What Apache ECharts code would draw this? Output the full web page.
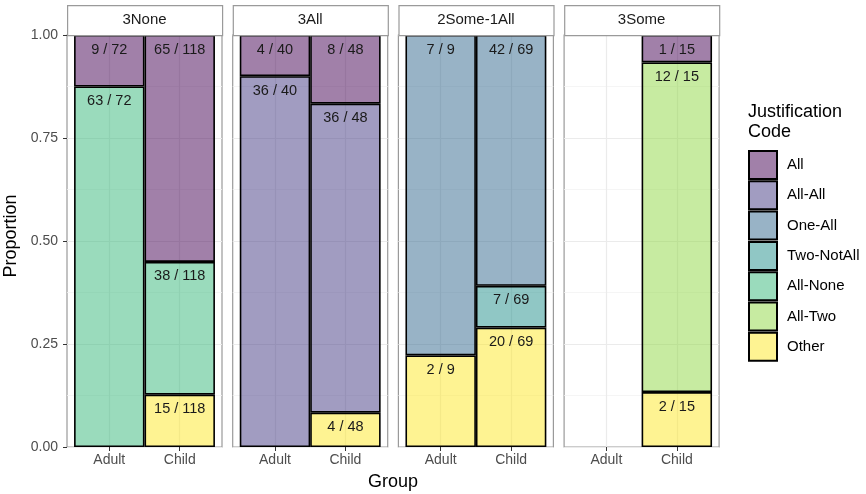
<!DOCTYPE html>
<html><head><meta charset="utf-8">
<script src="https://cdn.jsdelivr.net/npm/echarts@6/dist/echarts.min.js"></script>
<style>html,body{margin:0;padding:0;background:#fff}#c{width:866px;height:494px}</style>
</head><body><div id="c"></div>
<script>
// ---- data ----
const panels = ['3None', '3All', '2Some-1All', '3Some'];
const groups = ['Adult', 'Child'];
const codes = ['All', 'All-All', 'One-All', 'Two-NotAll', 'All-None', 'All-Two', 'Other'];
const yTicks = [0, 0.25, 0.5, 0.75, 1];
// counts per panel: [Adult, Child]
const cntAll       = [[9, 65], [4, 8],   [0, 0],  [0, 1]];
const cntAllAll    = [[0, 0],  [36, 36], [0, 0],  [0, 0]];
const cntOneAll    = [[0, 0],  [0, 0],   [7, 42], [0, 0]];
const cntTwoNotAll = [[0, 0],  [0, 0],   [0, 7],  [0, 0]];
const cntAllNone   = [[63, 38],[0, 0],   [0, 0],  [0, 0]];
const cntAllTwo    = [[0, 0],  [0, 0],   [0, 0],  [0, 12]];
const cntOther     = [[0, 15], [0, 4],   [2, 20], [0, 2]];
const countsByCode = [cntAll, cntAllAll, cntOneAll, cntTwoNotAll, cntAllNone, cntAllTwo, cntOther];
const colors = ['rgba(68,1,84,0.5)', 'rgba(68,58,131,0.5)', 'rgba(49,104,142,0.5)', 'rgba(33,144,140,0.5)',
                'rgba(53,183,121,0.5)', 'rgba(143,215,68,0.5)', 'rgba(253,231,37,0.5)'];

// ---- layout ----
const FONT = 'Liberation Sans, Arial, Helvetica, sans-serif';
const PL = [67, 232.7, 398.4, 564.1];
const PW = 155, TOP = 35, PH = 412;

const chart = echarts.init(document.getElementById('c'), null, {renderer: 'canvas'});
const grid = [], xAxis = [], yAxis = [], series = [], graphic = [];

panels.forEach((pn, i) => {
  // outer panel grid
  grid.push({left: PL[i], top: TOP, width: PW, height: PH, show: true, backgroundColor: '#fff',
             borderColor: '#9a9a9a', borderWidth: 1.2, containLabel: false});
  // inner bar grid (categories at 1,2 of range [0.4,2.6])
  grid.push({left: PL[i] + PW * 0.1 / 2.2, top: TOP, width: PW * 2 / 2.2, height: PH, show: false});
  xAxis.push({gridIndex: 2 * i, type: 'value', min: 0, max: 1, show: false});
  xAxis.push({gridIndex: 2 * i + 1, type: 'category', data: groups, boundaryGap: true,
    axisLine: {show: false},
    axisTick: {show: true, alignWithLabel: true, length: 4, lineStyle: {color: '#333', width: 1}},
    axisLabel: {color: '#4D4D4D', fontSize: 14, fontFamily: FONT, margin: 6, interval: 0},
    splitLine: {show: false}});
  yAxis.push({gridIndex: 2 * i, type: 'value', min: 0, max: 1, interval: 0.25,
    axisLine: {show: false},
    axisTick: {show: i === 0, length: 4, lineStyle: {color: '#333', width: 1}},
    axisLabel: {show: i === 0, color: '#4D4D4D', fontSize: 14, fontFamily: FONT, margin: 9,
                formatter: v => v.toFixed(2)},
    splitLine: {show: true, lineStyle: {color: '#EBEBEB', width: 1.2}},
    minorTick: {show: false, splitNumber: 2},
    minorSplitLine: {show: true, lineStyle: {color: '#F2F2F2', width: 0.8}}});
  yAxis.push({gridIndex: 2 * i + 1, type: 'value', min: 0, max: 1, show: false});

  // vertical grid lines at category centers
  series.push({type: 'line', xAxisIndex: 2 * i + 1, yAxisIndex: 2 * i + 1, data: [], z: 1, silent: true,
    markLine: {silent: true, z: 1, symbol: ['none', 'none'], label: {show: false}, animation: false,
      lineStyle: {color: '#EBEBEB', width: 1.2, type: 'solid'},
      emphasis: {disabled: true},
      data: groups.map(g => ({xAxis: g}))}});

  const totals = groups.map((g, gi) => countsByCode.reduce((s, arr) => s + arr[i][gi], 0));
  // stack from bottom (Other) to top (All)
  for (let k = codes.length - 1; k >= 0; k--) {
    const arr = countsByCode[k][i];
    if (arr[0] === 0 && arr[1] === 0) continue;
    series.push({
      type: 'bar', name: codes[k], xAxisIndex: 2 * i + 1, yAxisIndex: 2 * i + 1,
      stack: 'p' + i, barWidth: '100%', z: 2,
      itemStyle: {color: colors[k], borderColor: '#000', borderWidth: 1.6},
      label: {show: true, position: 'insideTop', distance: 7, color: '#1A1A1A', fontSize: 14.5, fontFamily: FONT},
      emphasis: {disabled: true},
      data: arr.map((c, gi) => c === 0 ? null :
        {value: c / totals[gi], label: {formatter: c + ' / ' + totals[gi]}})
    });
  }

  // strip
  graphic.push({type: 'rect', left: PL[i], top: 5, z: 10,
    shape: {width: PW, height: 30}, style: {fill: '#fff', stroke: '#9a9a9a', lineWidth: 1.2}});
  graphic.push({type: 'text', x: PL[i] + PW / 2, y: 20, z: 11,
    style: {text: pn, fill: '#1A1A1A', font: '15px ' + FONT, textAlign: 'center', textVerticalAlign: 'middle'}});
});

graphic.push({type: 'text', x: 11, y: 236, rotation: Math.PI / 2,
  style: {text: 'Proportion', fill: '#000', font: '18px ' + FONT, textAlign: 'center', textVerticalAlign: 'middle'}});
graphic.push({type: 'text', x: 393, y: 482,
  style: {text: 'Group', fill: '#000', font: '18px ' + FONT, textAlign: 'center', textVerticalAlign: 'middle'}});

chart.setOption({
  animation: false,
  textStyle: {fontFamily: FONT},
  title: {text: 'Justification\nCode', left: 748, top: 102, padding: 0,
    textStyle: {fontSize: 18, fontWeight: 'normal', color: '#000', lineHeight: 20, fontFamily: FONT}},
  legend: {orient: 'vertical', left: 748, top: 150, padding: 0, itemWidth: 28, itemHeight: 28, itemGap: 0.3,
    icon: 'rect', selectedMode: false, data: codes,
    textStyle: {fontSize: 15, color: '#000', fontFamily: FONT, padding: [0, 0, 0, 5]}},
  grid, xAxis, yAxis, series, graphic
});
</script></body></html>
